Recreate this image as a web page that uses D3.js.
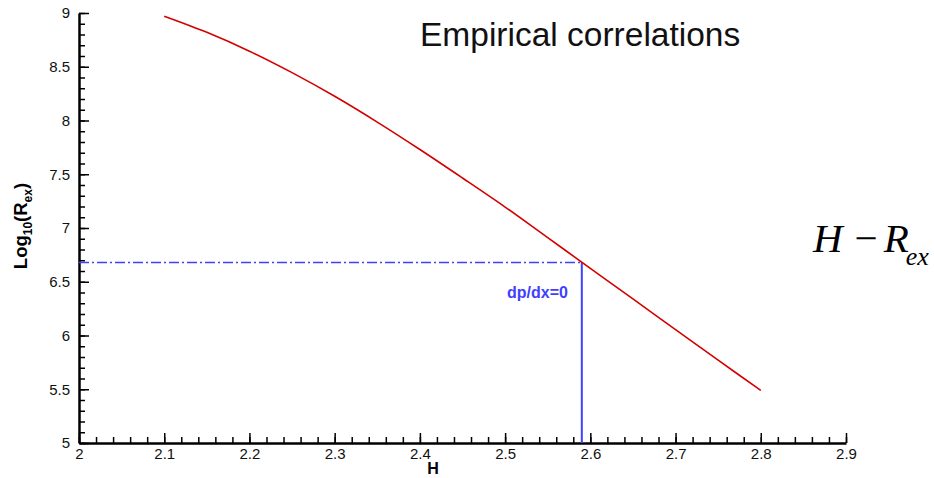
<!DOCTYPE html>
<html>
<head>
<meta charset="utf-8">
<script src="https://cdn.jsdelivr.net/npm/d3@7"></script>
<style>
  body { margin: 0; background: #fff; }
  svg { display: block; font-family: "Liberation Sans", Arial, sans-serif; }
</style>
</head>
<body>
<script>
// curve
var hValues = [2.1, 2.15, 2.2, 2.25, 2.3, 2.35, 2.4, 2.45, 2.5, 2.55, 2.6, 2.65, 2.7, 2.75, 2.8];
var logRex  = [8.97, 8.82, 8.645, 8.445, 8.225, 7.985, 7.73, 7.465, 7.195, 6.91, 6.625, 6.34, 6.055, 5.77, 5.49];

// dp/dx = 0 point
var markH = [2.59];
var markR = [6.68];

var xTicks = [2, 2.1, 2.2, 2.3, 2.4, 2.5, 2.6, 2.7, 2.8, 2.9];
var yTicks = [5, 5.5, 6, 6.5, 7, 7.5, 8, 8.5, 9];

var W = 934, H = 478;
var svg = d3.select('body').append('svg')
  .attr('width', W)
  .attr('height', H);

var x = d3.scaleLinear().domain([2, 2.9]).range([79, 846]);
var y = d3.scaleLinear().domain([5, 9]).range([443, 13]);

var fmt = function(d) { return String(+d.toFixed(1)); };

//minor ticks first, majors on top
var xMinor = d3.range(0, 46).map(function(i) { return +(2 + i * 0.02).toFixed(2); });
var yMinor = d3.range(0, 41).map(function(i) { return +(5 + i * 0.1).toFixed(1); });

svg.append('g')
  .attr('transform', 'translate(0,443)')
  .call(d3.axisBottom(x).tickValues(xMinor).tickSize(-6).tickFormat('').tickSizeOuter(0))
  .call(function(g) { g.select('.domain').remove(); });
svg.append('g')
  .attr('transform', 'translate(79,0)')
  .call(d3.axisLeft(y).tickValues(yMinor).tickSize(-6).tickFormat('').tickSizeOuter(0))
  .call(function(g) { g.select('.domain').remove(); });

var xAxis = svg.append('g')
  .attr('transform', 'translate(0,443)')
  .call(d3.axisBottom(x).tickValues(xTicks).tickSize(-10).tickSizeOuter(0).tickPadding(5).tickFormat(fmt));
var yAxis = svg.append('g')
  .attr('transform', 'translate(79,0)')
  .call(d3.axisLeft(y).tickValues(yTicks).tickSize(-10).tickSizeOuter(0).tickPadding(9).tickFormat(fmt));

svg.selectAll('.tick line').attr('stroke', '#000').attr('stroke-width', 1.5);
svg.selectAll('.domain').attr('stroke', '#000').attr('stroke-width', 2.5);
svg.selectAll('.tick text')
  .attr('fill', '#111')
  .style('font-size', '15px')
  .style('font-family', '"Liberation Sans", Arial, sans-serif');

// dash-dot guide and vertical drop line
svg.append('line')
  .attr('x1', x(2)).attr('x2', x(markH[0]))
  .attr('y1', y(markR[0])).attr('y2', y(markR[0]))
  .attr('stroke', '#4040ff')
  .attr('stroke-width', 1.5)
  .attr('stroke-dasharray', '10,3,2,3');
svg.append('line')
  .attr('x1', x(markH[0])).attr('x2', x(markH[0]))
  .attr('y1', y(markR[0])).attr('y2', y(5))
  .attr('stroke', '#4040ff')
  .attr('stroke-width', 2);

// main curve
var line = d3.line()
  .x(function(d, i) { return x(hValues[i]); })
  .y(function(d) { return y(d); })
  .curve(d3.curveCatmullRom);

svg.append('path')
  .datum(logRex)
  .attr('d', line)
  .attr('fill', 'none')
  .attr('stroke', '#d40000')
  .attr('stroke-width', 1.6);

// texts
svg.append('text')
  .attr('x', 420).attr('y', 46)
  .style('font-size', '33.5px')
  .attr('fill', '#111')
  .text('Empirical correlations');

svg.append('text')
  .attr('x', 507).attr('y', 298)
  .style('font-size', '16px')
  .style('font-weight', 'bold')
  .attr('fill', '#4040ff')
  .text('dp/dx=0');

svg.append('text')
  .attr('x', 433).attr('y', 474)
  .attr('text-anchor', 'middle')
  .style('font-size', '16px')
  .style('font-weight', 'bold')
  .text('H');

var ylab = svg.append('text')
  .attr('transform', 'translate(27,226) rotate(-90)')
  .attr('text-anchor', 'middle')
  .style('font-size', '18.5px')
  .style('font-weight', 'bold');
ylab.append('tspan').text('Log');
ylab.append('tspan').attr('dy', 5).style('font-size', '12px').text('10');
ylab.append('tspan').attr('dy', -5).text('(R');
ylab.append('tspan').attr('dy', 5).style('font-size', '12px').text('ex');
ylab.append('tspan').attr('dy', -5).text(')');

var eq = svg.append('text')
  .attr('x', 813).attr('y', 252)
  .style('font-family', '"Liberation Serif", "Times New Roman", serif')
  .style('font-size', '41px');
eq.append('tspan').style('font-style', 'italic').text('H');
eq.append('tspan').attr('dx', 12).text('\u2212');
eq.append('tspan').attr('dx', 6).style('font-style', 'italic').text('R');
eq.append('tspan').attr('dy', 13).attr('dx', -3).style('font-style', 'italic').style('font-size', '26px').text('ex');
</script>
</body>
</html>
